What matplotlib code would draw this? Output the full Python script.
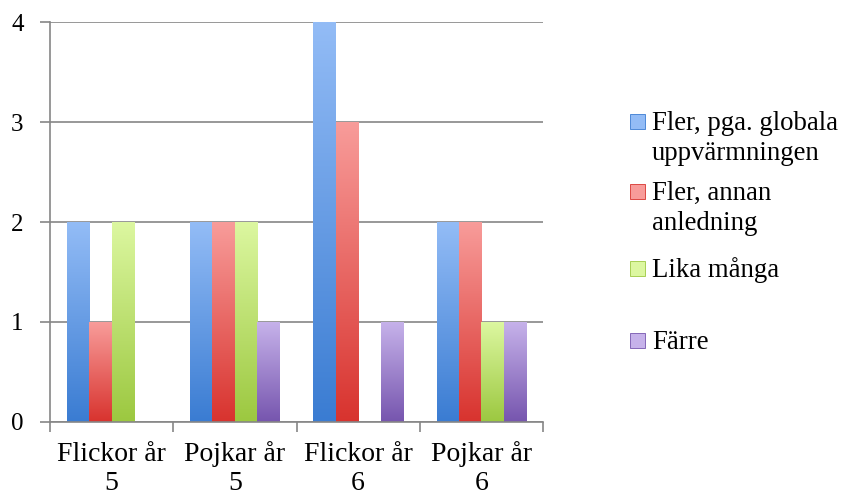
import numpy as np
import matplotlib
matplotlib.use("Agg")
import matplotlib.pyplot as plt
from matplotlib.colors import LinearSegmentedColormap
from matplotlib.patches import Rectangle
from matplotlib.transforms import blended_transform_factory

categories = ["Flickor år\n5", "Pojkar år\n5", "Flickor år\n6", "Pojkar år\n6"]
series = ["Fler, pga. globala\nuppvärmningen", "Fler, annan\nanledning", "Lika många", "Färre"]
blue_vals = [2, 2, 4, 2]
red_vals = [1, 2, 3, 2]
green_vals = [2, 2, 0, 1]
purple_vals = [0, 1, 1, 1]

# (top, bottom) colours for the gradient fill
grads = [("#93bcf6", "#3a7cd2"), ("#f89c9a", "#d8332e"),
         ("#dcf7a0", "#9cc840"), ("#c6b2ea", "#7655ae")]

plt.rcParams["font.family"] = ["Liberation Serif", "DejaVu Serif"]

W, H = 844, 496
fig = plt.figure(figsize=(W / 100, H / 100), dpi=100)
ax = fig.add_axes([50 / W, 1 - 422 / H, 493 / W, 400 / H])

values = [blue_vals, red_vals, green_vals, purple_vals]
n = len(categories)
w = 0.182
x = np.arange(n)
grad = np.linspace(0, 1, 256).reshape(-1, 1)
for i, (vals, (top, bot)) in enumerate(zip(values, grads)):
    cmap = LinearSegmentedColormap.from_list(f"g{i}", [bot, top])
    pos = x + (i - 1.5) * w
    bars = ax.bar(pos, vals, w, color="none", edgecolor="none", zorder=2)
    for b in bars:
        h = b.get_height()
        if h <= 0:
            continue
        bx = b.get_x()
        ax.imshow(grad, cmap=cmap, aspect="auto", origin="lower",
                  extent=[bx, bx + w, 0, h], zorder=2)

ax.set_xlim(-0.5, n - 0.5)
ax.set_ylim(0, 4)
ax.set_yticks([0, 1, 2, 3, 4])
ax.set_xticks(np.arange(-0.5, n, 1))
ax.set_xticklabels([])
ax.tick_params(axis="x", length=7, color="#868686", width=1.2)
ax.tick_params(axis="y", length=7, color="#868686", width=1.2, labelsize=18, pad=12)
ax.grid(axis="y", color="#868686", linewidth=1.2, zorder=0)
ax.set_axisbelow(True)
for s in ["top", "right"]:
    ax.spines[s].set_visible(False)
for s in ["left", "bottom"]:
    ax.spines[s].set_color("#868686")
    ax.spines[s].set_linewidth(1.2)

# category labels, one text per line so the baselines line up
cat_trans = blended_transform_factory(ax.transData, fig.transFigure)
line_base = [461, 490]
for xi, cat in zip(x, categories):
    for line, yb in zip(cat.split("\n"), line_base):
        ax.text(xi, 1 - yb / H, line, transform=cat_trans,
                ha="center", va="baseline", fontsize=20)

# legend drawn by hand to follow the reference spacing
legend_base = [[130, 160], [200, 230], [277], [349]]
for (top, bot), label, bases in zip(grads, series, legend_base):
    yb = bases[0]
    fig.patches.append(Rectangle((630 / W, 1 - (yb - 1) / H), 15 / W, 15 / H,
                                 facecolor=top, edgecolor=bot, linewidth=0.6,
                                 transform=fig.transFigure))
    for line, b in zip(label.split("\n"), bases):
        fig.text(652 / W, 1 - b / H, line, fontsize=19.3, va="baseline", ha="left")

fig.savefig("out.png", dpi=100)
